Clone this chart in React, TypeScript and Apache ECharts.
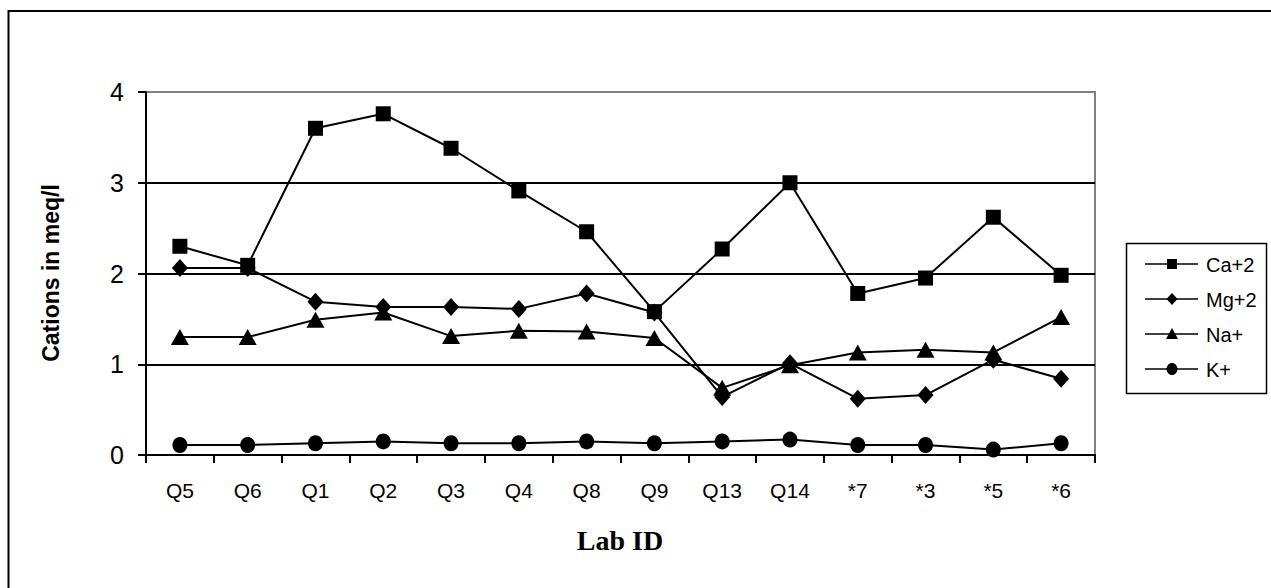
import React, { useEffect, useRef } from "react";
import * as echarts from "echarts";

const categories = ["Q5", "Q6", "Q1", "Q2", "Q3", "Q4", "Q8", "Q9", "Q13", "Q14", "*7", "*3", "*5", "*6"];
const ca = [2.3, 2.09, 3.6, 3.76, 3.38, 2.91, 2.46, 1.58, 2.27, 3.0, 1.78, 1.95, 2.62, 1.98];
const mg = [2.06, 2.06, 1.69, 1.63, 1.63, 1.61, 1.78, 1.57, 0.64, 1.01, 0.62, 0.66, 1.05, 0.84];
const na = [1.3, 1.3, 1.49, 1.57, 1.31, 1.37, 1.36, 1.29, 0.74, 0.99, 1.13, 1.16, 1.13, 1.52];
const k = [0.11, 0.11, 0.13, 0.15, 0.13, 0.13, 0.15, 0.13, 0.15, 0.17, 0.11, 0.11, 0.06, 0.13];
const seriesNames = ["Ca+2", "Mg+2", "Na+", "K+"];
const yTicks = [0, 1, 2, 3, 4];

const SANS = '"Liberation Sans", Arial, sans-serif';
const SERIF = '"Liberation Serif", "Times New Roman", serif';

export default function App() {
  const ref = useRef<HTMLDivElement>(null);
  useEffect(() => {
    if (!ref.current) return;
    const chart = echarts.init(ref.current, undefined, { renderer: "svg" });
    const data = [ca, mg, na, k];
    const symbols = ["rect", "diamond", "triangle", "circle"];
    const sizes: any[] = [15, [16, 18], [18, 16], [15, 16]];
    const legendRows = [264, 299, 334, 369];
    const graphics: any[] = [
      {
        type: "rect",
        shape: { x: 8.5, y: 11, width: 2000, height: 2000 },
        style: { fill: "none", stroke: "#000", lineWidth: 2 },
        silent: true,
      },
      {
        type: "rect",
        shape: { x: 1126.5, y: 243.5, width: 140, height: 150 },
        style: { fill: "#fff", stroke: "#000", lineWidth: 1.5 },
        z: 10,
      },
      {
        type: "text",
        x: 51,
        y: 273,
        rotation: Math.PI / 2,
        style: {
          text: "Cations in meq/l",
          fontFamily: SANS,
          fontWeight: "bold",
          fontSize: 23,
          fill: "#000",
          align: "center",
          verticalAlign: "middle",
        },
      },
      {
        type: "text",
        x: 620,
        y: 540,
        style: {
          text: "Lab ID",
          fontFamily: SERIF,
          fontWeight: "bold",
          fontSize: 28,
          fill: "#000",
          align: "center",
          verticalAlign: "middle",
        },
      },
    ];
    seriesNames.forEach((name, i) => {
      const y = legendRows[i];
      graphics.push({
        type: "line",
        shape: { x1: 1145, y1: y, x2: 1198, y2: y },
        style: { stroke: "#000", lineWidth: 1.5 },
        z: 11,
      });
      graphics.push({
        type: "text",
        x: 1206,
        y: y + 1,
        style: {
          text: name,
          fontFamily: SANS,
          fontSize: 20,
          fill: "#000",
          align: "left",
          verticalAlign: "middle",
        },
        z: 11,
      });
    });
    const lm: any[] = [
      { type: "rect", shape: { x: 1167, y: legendRows[0] - 5, width: 10, height: 10 } },
      { type: "polygon", shape: { points: [[1172, legendRows[1] - 6], [1177.5, legendRows[1]], [1172, legendRows[1] + 6], [1166.5, legendRows[1]]] } },
      { type: "polygon", shape: { points: [[1172, legendRows[2] - 6], [1178, legendRows[2] + 5], [1166, legendRows[2] + 5]] } },
      { type: "ellipse", shape: { cx: 1172, cy: legendRows[3], rx: 5.5, ry: 6 } },
    ];
    lm.forEach((m) => graphics.push({ ...m, style: { fill: "#000" }, z: 12 }));

    chart.setOption({
      animation: false,
      backgroundColor: "#fff",
      grid: {
        left: 146,
        top: 92,
        width: 949,
        height: 363,
        show: true,
        borderColor: "#808080",
        borderWidth: 2,
        backgroundColor: "transparent",
      },
      xAxis: {
        type: "category",
        data: categories,
        boundaryGap: true,
        axisLine: { lineStyle: { color: "#000", width: 2 } },
        axisTick: { show: true, length: 8, alignWithLabel: false, lineStyle: { color: "#000", width: 2 } },
        axisLabel: { color: "#000", fontFamily: SANS, fontSize: 21, margin: 25, interval: 0 },
        splitLine: { show: false },
      },
      yAxis: {
        type: "value",
        min: 0,
        max: 4,
        interval: 1,
        axisLine: { show: true, lineStyle: { color: "#000", width: 2 } },
        axisTick: { show: true, length: 8, lineStyle: { color: "#000", width: 2 } },
        axisLabel: {
          color: "#000",
          fontFamily: SANS,
          fontSize: 25,
          margin: 22,
          formatter: (v: number) => (yTicks.includes(v) ? String(v) : ""),
        },
        splitLine: { show: true, showMaxLine: false, lineStyle: { color: "#000", width: 2 } },
      },
      series: seriesNames.map((name, i) => ({
        name,
        type: "line",
        data: data[i],
        symbol: symbols[i],
        symbolSize: sizes[i],
        showAllSymbol: true,
        lineStyle: { color: "#000", width: 2 },
        itemStyle: { color: "#000", borderWidth: 0 },
        emphasis: { disabled: true },
        z: 5 - i,
      })),
      graphic: graphics,
    });
    return () => chart.dispose();
  }, []);
  return (
    <div
      ref={ref}
      style={{ position: "absolute", left: 0, top: 0, width: 1271, height: 588 }}
    />
  );
}
